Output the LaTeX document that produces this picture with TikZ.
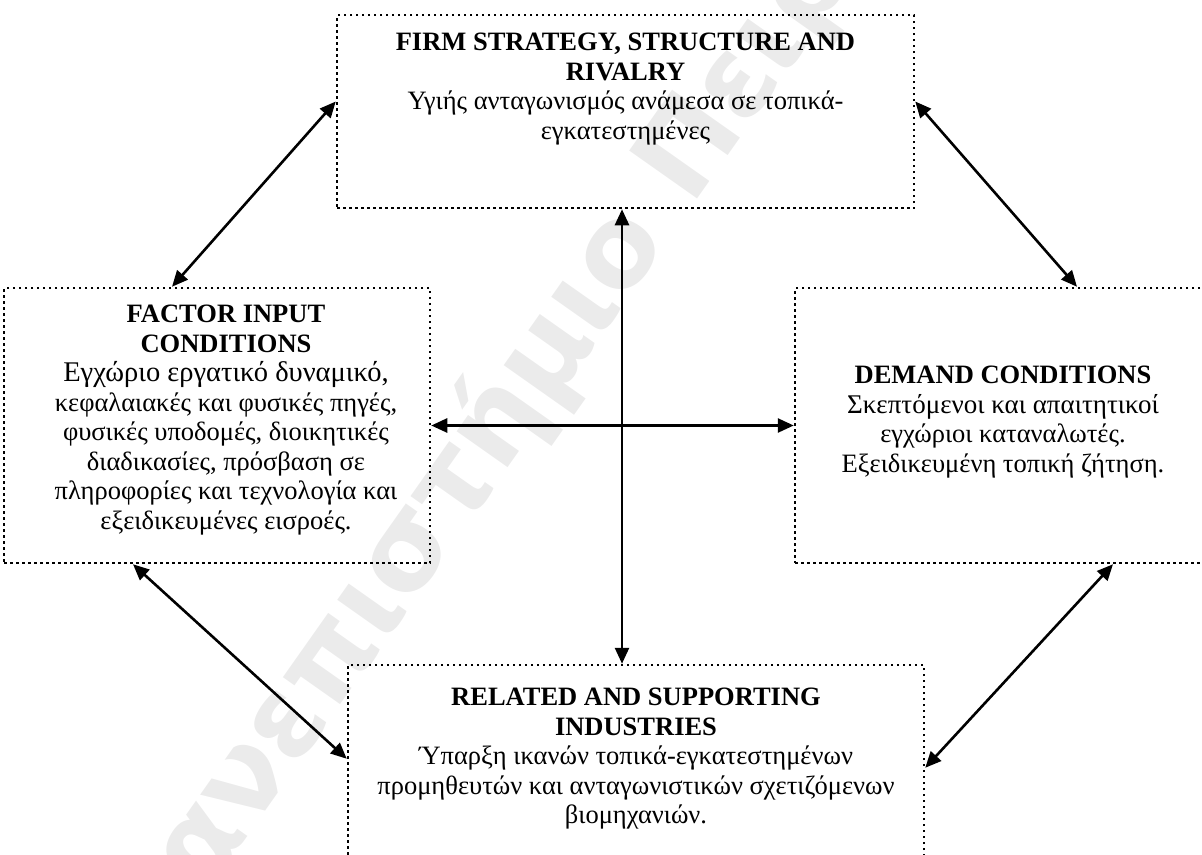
\documentclass[tikz,border=0pt]{standalone}
\usepackage{fontspec}
\setmainfont{Liberation Serif}
\newfontfamily\wmfont{DejaVu Sans}
\usetikzlibrary{arrows.meta}
\begin{document}
\begin{tikzpicture}[x=1pt,y=-1pt,
  box/.style={draw, rectangle, line width=2.5pt, dash pattern=on 2.5pt off 3.5pt, inner sep=0pt},
  boxtext/.style={align=center, inner sep=0pt, font=\fontsize{26.5}{29.5}\selectfont},
  duo/.style={line width=2.6pt, {Triangle[length=16pt,width=14pt]}-{Triangle[length=16pt,width=14pt]}}
]
\useasboundingbox (0,0) rectangle (1202,854);

% faint diagonal watermark behind everything
\node[anchor=base west, rotate=54.8, inner sep=0pt, text=black!8,
      font=\wmfont\bfseries\fontsize{114}{114}\selectfont] (wm) at (150,975)
  {Πανεπιστήμιο Πειραιώς};

% the four boxes
\node[box, minimum width=577pt, minimum height=193pt] (fsr) at (625.5,111.5) {};
\node[box, minimum width=426pt, minimum height=275pt] (fic) at (217,425.5) {};
\node[box, minimum width=416pt, minimum height=275pt] (dem) at (1003,425.5) {};
\node[box, minimum width=576pt, minimum height=215pt] (rsi) at (636,772.5) {};

% box contents
\node[boxtext, anchor=north] (fsrt) at (625.5,33)
  {\textbf{FIRM STRATEGY, STRUCTURE AND}\\\textbf{RIVALRY}\\
   Υγιής ανταγωνισμός ανάμεσα σε τοπικά-\\εγκατεστημένες};
\node[boxtext, anchor=north] (fict) at (226,305)
  {\textbf{FACTOR INPUT}\\\textbf{CONDITIONS}\\
   \fontsize{28.5}{30}\selectfont
   Εγχώριο εργατικό δυναμικό,\\κεφαλαιακές και φυσικές πηγές,\\
   φυσικές υποδομές, διοικητικές\\διαδικασίες, πρόσβαση σε\\
   πληροφορίες και τεχνολογία και\\εξειδικευμένες εισροές.};
\node[boxtext, anchor=north] (demt) at (1003,366)
  {\textbf{DEMAND CONDITIONS}\\\fontsize{27}{29.5}\selectfont Σκεπτόμενοι και απαιτητικοί\\
   εγχώριοι καταναλωτές.\\Εξειδικευμένη τοπική ζήτηση.};
\node[boxtext, anchor=north] (rsit) at (636,688)
  {\textbf{RELATED AND SUPPORTING}\\\textbf{INDUSTRIES}\\
   Ύπαρξη ικανών τοπικά-εγκατεστημένων\\
   προμηθευτών και ανταγωνιστικών σχετιζόμενων\\βιομηχανιών.};

% central cross
\draw[duo] ([xshift=-3.5pt]fsr.south) -- ([xshift=-3.5pt]fsr.south |- rsi.north);
\draw[duo] (fic.east) -- (dem.west);

% diagonal links around the diamond
\draw[duo] ([xshift=-45pt]fic.north) -- ([yshift=10pt]fsr.west);
\draw[duo] ([yshift=10pt]fsr.east) -- ([xshift=74pt]dem.north);
\draw[duo] ([xshift=-84pt]fic.south) -- ([yshift=-95pt]rsi.north west);
\draw[duo] ([xshift=110pt]dem.south) -- ([yshift=-104pt]rsi.north east);
\end{tikzpicture}
\end{document}
